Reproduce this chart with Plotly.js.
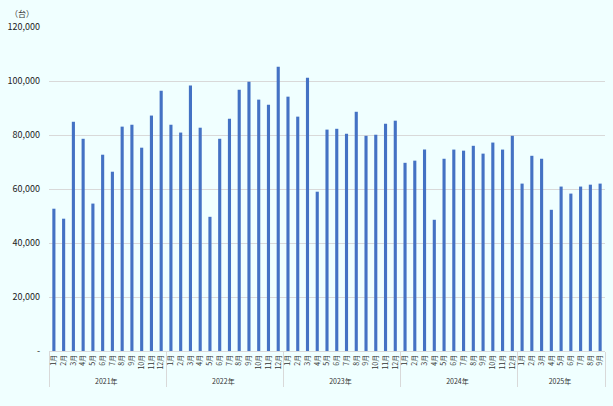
<!DOCTYPE html>
<html>
<head>
<meta charset="utf-8">
<script src="https://cdn.plot.ly/plotly-3.0.1.min.js"></script>
<style>
  html, body { margin: 0; padding: 0; background: #F0FFFF; }
  #chart { width: 613px; height: 406px; }
</style>
</head>
<body>
<div id="chart"></div>
<script>
// monthly units
var years = ['2021年', '2022年', '2023年', '2024年', '2025年'];
var months = ['1月','2月','3月','4月','5月','6月','7月','8月','9月','10月','11月','12月'];
var v2021 = [52700, 49000, 84900, 78600, 54600, 72700, 66400, 83100, 83800, 75300, 87200, 96400];
var v2022 = [83800, 80900, 98300, 82700, 49700, 78600, 86000, 96800, 99700, 93100, 91200, 105300];
var v2023 = [94200, 86800, 101200, 59000, 82000, 82300, 80500, 88600, 79700, 80100, 84200, 85300];
var v2024 = [69700, 70500, 74600, 48600, 71200, 74600, 74200, 76000, 73100, 77200, 74600, 79700];
var v2025 = [62000, 72300, 71200, 52300, 60900, 58300, 60900, 61600, 62000];
var yTicks = [0, 20000, 40000, 60000, 80000, 100000, 120000];
var yLabels = ['-', '20,000', '40,000', '60,000', '80,000', '100,000', '120,000'];

var series = [v2021, v2022, v2023, v2024, v2025];
var xYear = [], xMonth = [], yVal = [];
for (var i = 0; i < series.length; i++) {
  for (var j = 0; j < series[i].length; j++) {
    xYear.push(years[i]);
    xMonth.push(months[j]);
    yVal.push(series[i][j]);
  }
}

var trace = {
  type: 'bar',
  x: [xYear, xMonth],
  y: yVal,
  marker: {color: '#4472C4'},
  hoverinfo: 'y'
};

var layout = {
  width: 613, height: 406,
  paper_bgcolor: '#F0FFFF', plot_bgcolor: '#F0FFFF',
  margin: {l: 49, r: 8, t: 27, b: 55, pad: 0},
  bargap: 0.68,
  showlegend: false,
  font: {family: '"Noto Sans CJK JP", "Noto Sans", sans-serif', color: '#333', size: 9},
  xaxis: {
    type: 'multicategory',
    tickangle: -90,
    tickfont: {size: 7, color: '#333'},
    showline: true, linecolor: '#D9D9D9', linewidth: 1,
    showdividers: true, dividercolor: '#D9D9D9', dividerwidth: 1,
    ticks: '', automargin: false
  },
  yaxis: {
    range: [0, 120000],
    tickvals: yTicks, ticktext: yLabels,
    tickfont: {size: 9, color: '#222'},
    ticklabelstandoff: 8,
    gridcolor: '#D9D9D9', gridwidth: 1,
    zeroline: false, showline: false, ticks: '',
    automargin: false
  },
  annotations: [{
    text: '（台）', xref: 'paper', yref: 'paper',
    x: -0.048, y: 1.043, xanchor: 'center', yanchor: 'middle',
    showarrow: false, font: {size: 8, color: '#333'}
  }]
};

Plotly.newPlot('chart', [trace], layout, {displayModeBar: false, staticPlot: true});
</script>
</body>
</html>
